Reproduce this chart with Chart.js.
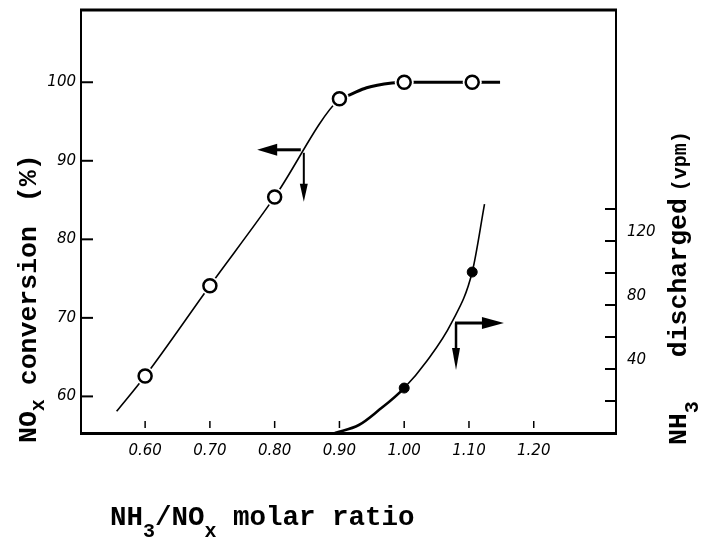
<!DOCTYPE html>
<html>
<head>
<meta charset="utf-8">
<script src="https://cdn.jsdelivr.net/npm/chart.js@4.4.0/dist/chart.umd.min.js"></script>
<style>
body { margin: 0; background: #fff; }
#wrap { width: 702px; height: 544px; }
</style>
</head>
<body>
<div id="wrap"><canvas id="scrChart" width="702" height="544"></canvas></div>
<script>
// measured points (open circles = NOx conversion, filled = NH3 slip)
var ratio = [0.60, 0.70, 0.80, 0.90, 1.00, 1.105];
var conversion = [62.6, 74.1, 85.4, 97.9, 100.0, 100.0];
var nh3Ratio = [1.00, 1.105];
var nh3Vpm = [28.1, 100.6];

// hand drawn curves
var convCurveX = [0.556, 0.60, 0.70, 0.80, 0.90, 0.916, 0.942, 0.981, 1.00, 1.105, 1.148];
var convCurveY = [58.1, 62.6, 74.1, 85.4, 97.9, 98.4, 99.3, 99.9, 100.0, 100.0, 100.0];
var nh3CurveX = [0.893, 0.93, 0.96, 1.00, 1.035, 1.073, 1.105, 1.124];
var nh3CurveY = [0, 5, 14, 28.1, 45, 68.8, 100.6, 143];

// tick values
var xTicks = [0.60, 0.70, 0.80, 0.90, 1.00, 1.10, 1.20];
var leftTicks = [60, 70, 80, 90, 100];
var rightTicks = [20, 40, 60, 80, 100, 120, 140];
var rightLabels = [40, 80, 120];

// arrows: corner (x, y) then horizontal tip x and vertical tip y
var convArrow = [0.845, 91.4, 0.773, 84.8];
var nh3Arrow = [1.080, 68.75, 1.154, 39.4];

function pts(xs, ys) {
    return xs.map(function(v, i) { return { x: v, y: ys[i] }; });
}

function line(ctx, x1, y1, x2, y2) {
    ctx.beginPath();
    ctx.moveTo(x1, y1);
    ctx.lineTo(x2, y2);
    ctx.stroke();
}

function head(ctx, tx, ty, dx, dy, len, half) {
    // dx, dy: unit direction the arrow points to
    var bx = tx - dx * len, by = ty - dy * len;
    ctx.beginPath();
    ctx.moveTo(tx, ty);
    ctx.lineTo(bx - dy * half, by + dx * half);
    ctx.lineTo(bx + dy * half, by - dx * half);
    ctx.closePath();
    ctx.fill();
}

function drawPieces(ctx, pieces) {
    var pos = 0;
    pieces.forEach(function(p) {
        ctx.font = p.font;
        pos += p.gap || 0;
        ctx.fillText(p.text, pos, p.dy || 0);
        pos += ctx.measureText(p.text).width;
    });
}

function noPadV(s) { s.paddingTop = 0; s.paddingBottom = 0; }

var MAIN = 'bold 26.5px "Liberation Mono"';
var XMAIN = 'bold 27.5px "Liberation Mono"';
var SUB = 'bold 20px "Liberation Mono"';

var decorPlugin = {
    id: 'decor',
    afterDraw: function(chart) {
        var ctx = chart.ctx;
        var a = chart.chartArea;
        var sx = chart.scales.x, sy = chart.scales.y, sy2 = chart.scales.y2;
        ctx.save();
        ctx.strokeStyle = '#000';
        ctx.fillStyle = '#000';
        ctx.lineCap = 'butt';

        // top frame line
        ctx.lineWidth = 3;
        line(ctx, a.left - 1, a.top, a.right + 1, a.top);

        // inward tick marks
        ctx.lineWidth = 2;
        sy.ticks.forEach(function(t) {
            var py = sy.getPixelForValue(t.value);
            line(ctx, a.left, py, a.left + 12, py);
        });
        sy2.ticks.forEach(function(t) {
            var py = sy2.getPixelForValue(t.value);
            line(ctx, a.right - 11, py, a.right, py);
        });
        ctx.lineWidth = 1.5;
        sx.ticks.forEach(function(t) {
            var px = sx.getPixelForValue(t.value);
            line(ctx, px, a.bottom - 12, px, a.bottom - 5);
        });

        // arrow towards left axis
        var cx = sx.getPixelForValue(convArrow[0]);
        var cy = sy.getPixelForValue(convArrow[1]);
        var hx = sx.getPixelForValue(convArrow[2]);
        var vy = sy.getPixelForValue(convArrow[3]);
        ctx.lineWidth = 3;
        line(ctx, cx - 3, cy, hx + 16, cy);
        head(ctx, hx, cy, -1, 0, 20, 6);
        ctx.lineWidth = 2;
        line(ctx, cx, cy + 3, cx, vy - 14);
        head(ctx, cx, vy, 0, 1, 18, 4);

        // arrow towards right axis
        cx = sx.getPixelForValue(nh3Arrow[0]);
        cy = sy2.getPixelForValue(nh3Arrow[1]);
        hx = sx.getPixelForValue(nh3Arrow[2]);
        vy = sy2.getPixelForValue(nh3Arrow[3]);
        ctx.lineWidth = 3;
        line(ctx, cx - 1, cy, hx - 18, cy);
        head(ctx, hx, cy, 1, 0, 22, 6);
        ctx.lineWidth = 2.5;
        line(ctx, cx, cy, cx, vy - 14);
        head(ctx, cx, vy, 0, 1, 22, 4);

        // axis titles
        ctx.textBaseline = 'alphabetic';
        ctx.textAlign = 'left';

        ctx.save();
        ctx.translate(110, 525);
        drawPieces(ctx, [
            { text: 'NH', font: XMAIN },
            { text: '3', font: SUB, dy: 12 },
            { text: '/NO', font: XMAIN },
            { text: 'x', font: SUB, dy: 12 },
            { text: ' molar ratio', font: XMAIN }
        ]);
        ctx.restore();

        ctx.save();
        ctx.translate(36, 443);
        ctx.rotate(-Math.PI / 2);
        drawPieces(ctx, [
            { text: 'NO', font: MAIN },
            { text: 'x', font: SUB, dy: 8 },
            { text: 'conversion', font: MAIN, gap: 14 },
            { text: '(%)', font: MAIN, gap: 24 }
        ]);
        ctx.restore();

        ctx.save();
        ctx.translate(686, 445);
        ctx.rotate(-Math.PI / 2);
        drawPieces(ctx, [
            { text: 'NH', font: MAIN },
            { text: '3', font: SUB, dy: 12 },
            { text: 'discharged', font: MAIN, gap: 44 },
            { text: '(vpm)', font: SUB, gap: 7 }
        ]);
        ctx.restore();

        ctx.restore();
    }
};

var tickFont = { family: 'DejaVu Sans', size: 15, style: 'italic' };

var scrChart = new Chart(document.getElementById('scrChart').getContext('2d'), {
    type: 'scatter',
    data: {
        datasets: [
            {
                // conversion curve
                type: 'line',
                data: pts(convCurveX, convCurveY),
                yAxisID: 'y',
                borderColor: '#000',
                borderWidth: 1.6,
                pointRadius: 0,
                cubicInterpolationMode: 'monotone',
                segment: {
                    borderWidth: function(c) { return c.p0.parsed.x >= 0.899 ? 3 : 1.6; }
                },
                order: 4
            },
            {
                // NH3 curve
                type: 'line',
                data: pts(nh3CurveX, nh3CurveY),
                yAxisID: 'y2',
                borderColor: '#000',
                borderWidth: 1.6,
                pointRadius: 0,
                cubicInterpolationMode: 'monotone',
                segment: {
                    borderWidth: function(c) { return c.p0.parsed.x < 0.99 ? 2.6 : 1.6; }
                },
                order: 4
            },
            {
                // white halo so the line breaks at each circle
                data: pts(ratio, conversion),
                yAxisID: 'y',
                pointRadius: 9.5,
                pointBackgroundColor: '#fff',
                pointBorderColor: '#fff',
                pointBorderWidth: 0,
                order: 3
            },
            {
                label: 'NOx conversion',
                data: pts(ratio, conversion),
                yAxisID: 'y',
                pointRadius: 6.5,
                pointBackgroundColor: '#fff',
                pointBorderColor: '#000',
                pointBorderWidth: 2.5,
                order: 1
            },
            {
                label: 'NH3 discharged',
                data: pts(nh3Ratio, nh3Vpm),
                yAxisID: 'y2',
                pointRadius: 5,
                pointBackgroundColor: '#000',
                pointBorderColor: '#000',
                pointBorderWidth: 1,
                order: 1
            }
        ]
    },
    options: {
        responsive: false,
        animation: false,
        events: [],
        layout: { padding: { top: 10, left: 0, right: 0, bottom: 0 } },
        plugins: {
            legend: { display: false },
            tooltip: { enabled: false }
        },
        scales: {
            x: {
                type: 'linear',
                position: 'bottom',
                min: 0.501,
                max: 1.327,
                afterBuildTicks: function(s) { s.ticks = xTicks.map(function(v) { return { value: v }; }); },
                afterFit: function(s) { s.height = 111; s.paddingLeft = 0; s.paddingRight = 0; },
                grid: { display: false, drawTicks: false },
                border: { display: true, color: '#000', width: 3 },
                ticks: {
                    autoSkip: false,
                    maxRotation: 0,
                    padding: 9,
                    color: '#000',
                    font: tickFont,
                    callback: function(v) { return Number(v).toFixed(2); }
                }
            },
            y: {
                type: 'linear',
                position: 'left',
                min: 55.34,
                max: 109.2,
                afterBuildTicks: function(s) { s.ticks = leftTicks.map(function(v) { return { value: v }; }); },
                afterFit: function(s) { s.width = 81; noPadV(s); },
                grid: { display: false, drawTicks: false },
                border: { display: true, color: '#000', width: 2 },
                ticks: {
                    autoSkip: false,
                    padding: 5,
                    color: '#000',
                    font: tickFont,
                    callback: function(v) { return String(v); }
                }
            },
            y2: {
                type: 'linear',
                position: 'right',
                min: 0,
                max: 264.4,
                afterBuildTicks: function(s) { s.ticks = rightTicks.map(function(v) { return { value: v }; }); },
                afterFit: function(s) { s.width = 86; noPadV(s); },
                grid: { display: false, drawTicks: false },
                border: { display: true, color: '#000', width: 2 },
                ticks: {
                    autoSkip: false,
                    padding: 11,
                    labelOffset: -9,
                    color: '#000',
                    font: tickFont,
                    callback: function(v) { return rightLabels.indexOf(v) >= 0 ? String(v) : ''; }
                }
            }
        }
    },
    plugins: [decorPlugin]
});
</script>
</body>
</html>
